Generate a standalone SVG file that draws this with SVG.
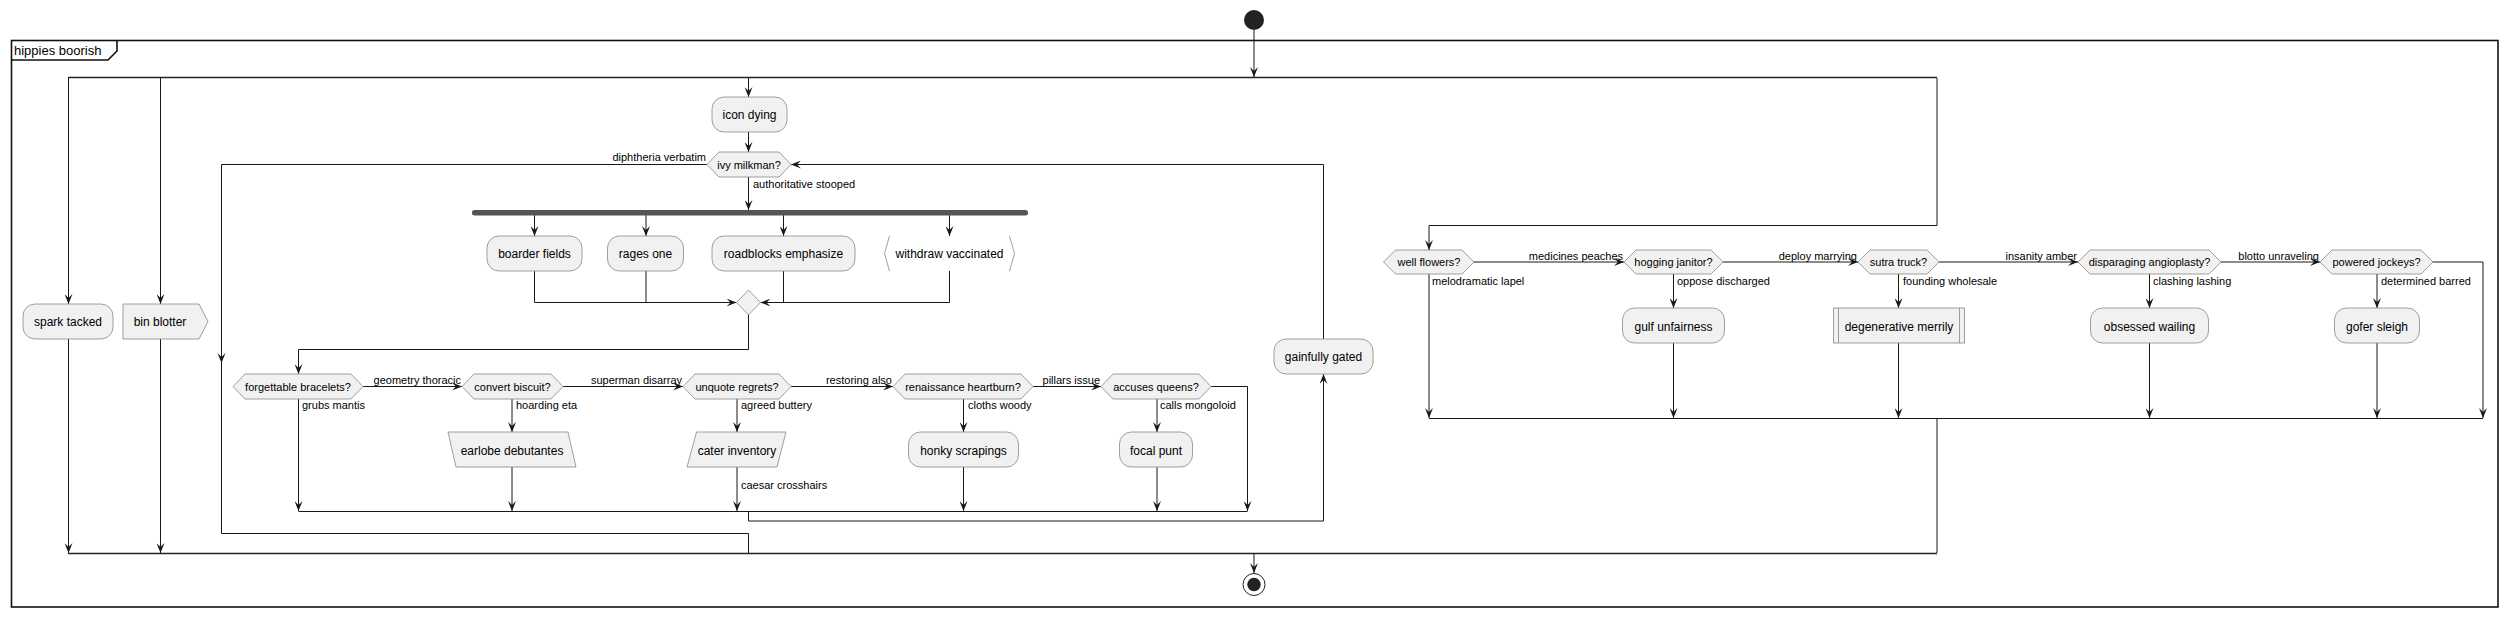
<svg xmlns="http://www.w3.org/2000/svg" width="2508" height="617" viewBox="0 0 2508 617">
<defs>
<style>
.ln{fill:none;stroke:#181818;stroke-width:1}
.bar{fill:none;stroke:#222;stroke-width:1.6}
.box{fill:#F1F1F1;stroke:#888;stroke-width:0.8}
.t{font-family:"Liberation Sans",Arial,sans-serif;font-size:12px;fill:#000;text-anchor:middle}
.d{font-family:"Liberation Sans",Arial,sans-serif;font-size:11px;fill:#000;text-anchor:middle}
.l{font-family:"Liberation Sans",Arial,sans-serif;font-size:11px;fill:#000}
.le{font-family:"Liberation Sans",Arial,sans-serif;font-size:11px;fill:#000;text-anchor:end}
</style>
<marker id="a" markerUnits="userSpaceOnUse" markerWidth="10" markerHeight="8" refX="10" refY="4" orient="auto" viewBox="0 0 10 8">
<path d="M0,0 L10,4 L0,8 L4,4 Z" fill="#181818"/>
</marker>
</defs>
<rect width="2508" height="617" fill="#fff"/>

<g id="frame">
<rect x="11.5" y="40.5" width="2486.5" height="566.5" fill="none" stroke="#111" stroke-width="1.6"/>
<path d="M11.5,60 H108 L117,51 V40.5" fill="none" stroke="#111" stroke-width="1.6"/>
<text x="14" y="55" style="font-family:'Liberation Sans',Arial,sans-serif;font-size:13px">hippies boorish</text>
</g>

<g id="start"><circle cx="1254" cy="20" r="10" fill="#222"/></g>
<g id="end"><circle cx="1254" cy="584.5" r="11" fill="none" stroke="#222" stroke-width="1"/><circle cx="1254" cy="584.5" r="6.7" fill="#222"/></g>

<g id="connectors">
<line class="ln" x1="1254" y1="30" x2="1254" y2="77" marker-end="url(#a)"/>
<line class="bar" x1="68" y1="77.5" x2="1937" y2="77.5"/>
<line class="bar" x1="68" y1="553.5" x2="1937" y2="553.5"/>
<line class="ln" x1="68.5" y1="78" x2="68.5" y2="304" marker-end="url(#a)"/>
<line class="ln" x1="68.5" y1="339" x2="68.5" y2="553" marker-end="url(#a)"/>
<line class="ln" x1="160.5" y1="78" x2="160.5" y2="304" marker-end="url(#a)"/>
<line class="ln" x1="160.5" y1="339" x2="160.5" y2="553" marker-end="url(#a)"/>
<line class="ln" x1="748.5" y1="78" x2="748.5" y2="97" marker-end="url(#a)"/>
<line class="ln" x1="748.5" y1="132" x2="748.5" y2="152" marker-end="url(#a)"/>
<line class="ln" x1="748.5" y1="177" x2="748.5" y2="210" marker-end="url(#a)"/>
<line class="ln" x1="534.5" y1="215" x2="534.5" y2="236" marker-end="url(#a)"/>
<line class="ln" x1="646" y1="215" x2="646" y2="236" marker-end="url(#a)"/>
<line class="ln" x1="783.5" y1="215" x2="783.5" y2="236" marker-end="url(#a)"/>
<line class="ln" x1="949.5" y1="215" x2="949.5" y2="236" marker-end="url(#a)"/>
<polyline class="ln" points="534.5,271 534.5,302.5 736.5,302.5" marker-end="url(#a)"/>
<line class="ln" x1="646" y1="271" x2="646" y2="302.5"/>
<polyline class="ln" points="949.5,271 949.5,302.5 760.5,302.5" marker-end="url(#a)"/>
<line class="ln" x1="783.5" y1="271" x2="783.5" y2="302.5"/>
<polyline class="ln" points="748.5,314 748.5,349.5 298.5,349.5 298.5,374" marker-end="url(#a)"/>
<line class="ln" x1="363" y1="386.5" x2="462" y2="386.5" marker-end="url(#a)"/>
<line class="ln" x1="563" y1="386.5" x2="683" y2="386.5" marker-end="url(#a)"/>
<line class="ln" x1="791" y1="386.5" x2="893" y2="386.5" marker-end="url(#a)"/>
<line class="ln" x1="1033" y1="386.5" x2="1101" y2="386.5" marker-end="url(#a)"/>
<polyline class="ln" points="1211,386.5 1247.5,386.5 1247.5,511" marker-end="url(#a)"/>
<line class="ln" x1="298.5" y1="399" x2="298.5" y2="511" marker-end="url(#a)"/>
<line class="ln" x1="512" y1="398.5" x2="512" y2="432" marker-end="url(#a)"/>
<line class="ln" x1="512" y1="467" x2="512" y2="511" marker-end="url(#a)"/>
<line class="ln" x1="737" y1="398.5" x2="737" y2="432" marker-end="url(#a)"/>
<line class="ln" x1="737" y1="467" x2="737" y2="511" marker-end="url(#a)"/>
<line class="ln" x1="963.5" y1="398.5" x2="963.5" y2="432" marker-end="url(#a)"/>
<line class="ln" x1="963.5" y1="467" x2="963.5" y2="511" marker-end="url(#a)"/>
<line class="ln" x1="1157" y1="398.5" x2="1157" y2="432" marker-end="url(#a)"/>
<line class="ln" x1="1157" y1="467" x2="1157" y2="511" marker-end="url(#a)"/>
<line class="ln" x1="298.5" y1="511.5" x2="1247.5" y2="511.5"/>
<polyline class="ln" points="748.5,511.5 748.5,521 1323.5,521 1323.5,374" marker-end="url(#a)"/>
<polyline class="ln" points="1323.5,339 1323.5,164.5 791,164.5" marker-end="url(#a)"/>
<polyline class="ln" points="707,164.5 221.5,164.5 221.5,533.5 748.5,533.5 748.5,553"/>
<path d="M217.5,353 L221.5,363 L225.5,353 L221.5,357 Z" fill="#181818"/>
<polyline class="ln" points="1937,78 1937,225.5 1429,225.5 1429,250" marker-end="url(#a)"/>
<line class="ln" x1="1474" y1="262" x2="1624" y2="262" marker-end="url(#a)"/>
<line class="ln" x1="1723" y1="262" x2="1858" y2="262" marker-end="url(#a)"/>
<line class="ln" x1="1939" y1="262" x2="2078" y2="262" marker-end="url(#a)"/>
<line class="ln" x1="2221" y1="262" x2="2320" y2="262" marker-end="url(#a)"/>
<polyline class="ln" points="2433,262 2483,262 2483,418" marker-end="url(#a)"/>
<line class="ln" x1="1429" y1="274" x2="1429" y2="418" marker-end="url(#a)"/>
<line class="ln" x1="1673.5" y1="274" x2="1673.5" y2="308" marker-end="url(#a)"/>
<line class="ln" x1="1673.5" y1="343" x2="1673.5" y2="418" marker-end="url(#a)"/>
<line class="ln" x1="1898.5" y1="274" x2="1898.5" y2="308" marker-end="url(#a)"/>
<line class="ln" x1="1898.5" y1="343" x2="1898.5" y2="418" marker-end="url(#a)"/>
<line class="ln" x1="2149.5" y1="274" x2="2149.5" y2="308" marker-end="url(#a)"/>
<line class="ln" x1="2149.5" y1="343" x2="2149.5" y2="418" marker-end="url(#a)"/>
<line class="ln" x1="2377" y1="274" x2="2377" y2="308" marker-end="url(#a)"/>
<line class="ln" x1="2377" y1="343" x2="2377" y2="418" marker-end="url(#a)"/>
<line class="ln" x1="1429" y1="418.5" x2="2483" y2="418.5"/>
<line class="ln" x1="1937" y1="418.5" x2="1937" y2="553"/>
<line class="ln" x1="1254" y1="554" x2="1254" y2="573" marker-end="url(#a)"/>
</g>

<g id="labels">
<text class="le" x="706" y="161">diphtheria verbatim</text>
<text class="l" x="753" y="188">authoritative stooped</text>
<text class="le" x="461" y="384">geometry thoracic</text>
<text class="le" x="682" y="384">superman disarray</text>
<text class="le" x="892" y="384">restoring also</text>
<text class="le" x="1100" y="384">pillars issue</text>
<text class="l" x="302" y="409">grubs mantis</text>
<text class="l" x="516" y="409">hoarding eta</text>
<text class="l" x="741" y="409">agreed buttery</text>
<text class="l" x="741" y="489">caesar crosshairs</text>
<text class="l" x="968" y="409">cloths woody</text>
<text class="l" x="1160" y="409">calls mongoloid</text>
<text class="le" x="1623" y="259.5">medicines peaches</text>
<text class="le" x="1857" y="259.5">deploy marrying</text>
<text class="le" x="2077" y="259.5">insanity amber</text>
<text class="le" x="2319" y="259.5">blotto unraveling</text>
<text class="l" x="1432" y="285">melodramatic lapel</text>
<text class="l" x="1677" y="285">oppose discharged</text>
<text class="l" x="1903" y="285">founding wholesale</text>
<text class="l" x="2153" y="285">clashing lashing</text>
<text class="l" x="2381" y="285">determined barred</text>
</g>

<g id="spark-tacked"><rect class="box" x="23" y="304" width="90" height="35" rx="12"/><text class="t" x="68" y="326">spark tacked</text></g>
<g id="bin-blotter"><path class="box" d="M123,304 H199 L208,321.5 L199,339 H123 Z"/><text class="t" x="160" y="326">bin blotter</text></g>
<g id="icon-dying"><rect class="box" x="712" y="97" width="75" height="35" rx="12"/><text class="t" x="749.5" y="119">icon dying</text></g>
<g id="ivy-milkman"><path class="box" d="M707,164.5 L719,152 H779 L791,164.5 L779,177 H719 Z"/><text class="d" x="749" y="168.5">ivy milkman?</text></g>
<g id="fork"><rect x="472" y="210" width="556" height="5.5" rx="2.5" fill="#555"/></g>
<g id="boarder-fields"><rect class="box" x="487" y="236" width="95" height="35" rx="12"/><text class="t" x="534.5" y="258">boarder fields</text></g>
<g id="rages-one"><rect class="box" x="607.5" y="236" width="76" height="35" rx="12"/><text class="t" x="645.5" y="258">rages one</text></g>
<g id="roadblocks-emphasize"><rect class="box" x="712" y="236" width="143" height="35" rx="12"/><text class="t" x="783.5" y="258">roadblocks emphasize</text></g>
<g id="withdraw-vaccinated"><path d="M889.5,236 L884.5,253.5 L889.5,271 M1009.5,236 L1014.5,253.5 L1009.5,271" fill="none" stroke="#888" stroke-width="0.8"/><text class="t" x="949.5" y="258">withdraw vaccinated</text></g>
<g id="merge"><path class="box" d="M748.5,290 L760.5,302.5 L748.5,315 L736.5,302.5 Z"/></g>
<g id="forgettable-bracelets"><path class="box" d="M233,386.5 L245,374 H351 L363,386.5 L351,399 H245 Z"/><text class="d" x="298" y="390.5">forgettable bracelets?</text></g>
<g id="convert-biscuit"><path class="box" d="M462,386.5 L474,374 H551 L563,386.5 L551,399 H474 Z"/><text class="d" x="512.5" y="390.5">convert biscuit?</text></g>
<g id="earlobe-debutantes"><path class="box" d="M448,432 H568 L576,467 H456 Z"/><text class="t" x="512" y="454.5">earlobe debutantes</text></g>
<g id="unquote-regrets"><path class="box" d="M683,386.5 L695,374 H779 L791,386.5 L779,399 H695 Z"/><text class="d" x="737" y="390.5">unquote regrets?</text></g>
<g id="cater-inventory"><path class="box" d="M696.5,432 H786 L777,467 H687 Z"/><text class="t" x="737" y="454.5">cater inventory</text></g>
<g id="renaissance-heartburn"><path class="box" d="M893,386.5 L905,374 H1021 L1033,386.5 L1021,399 H905 Z"/><text class="d" x="963" y="390.5">renaissance heartburn?</text></g>
<g id="honky-scrapings"><rect class="box" x="908.5" y="432" width="110" height="35" rx="12"/><text class="t" x="963.5" y="454.5">honky scrapings</text></g>
<g id="accuses-queens"><path class="box" d="M1101,386.5 L1113,374 H1199 L1211,386.5 L1199,399 H1113 Z"/><text class="d" x="1156" y="390.5">accuses queens?</text></g>
<g id="focal-punt"><rect class="box" x="1119.5" y="432" width="73" height="35" rx="12"/><text class="t" x="1156" y="454.5">focal punt</text></g>
<g id="gainfully-gated"><rect class="box" x="1274" y="339" width="99" height="35" rx="12"/><text class="t" x="1323.5" y="361">gainfully gated</text></g>
<g id="well-flowers"><path class="box" d="M1383.5,262 L1395.5,250 H1462 L1474,262 L1462,274 H1395.5 Z"/><text class="d" x="1429" y="266">well flowers?</text></g>
<g id="hogging-janitor"><path class="box" d="M1624,262 L1636,250 H1711 L1723,262 L1711,274 H1636 Z"/><text class="d" x="1673.5" y="266">hogging janitor?</text></g>
<g id="gulf-unfairness"><rect class="box" x="1622.5" y="308" width="102" height="35" rx="12"/><text class="t" x="1673.5" y="330.5">gulf unfairness</text></g>
<g id="sutra-truck"><path class="box" d="M1858,262 L1870,250 H1927 L1939,262 L1927,274 H1870 Z"/><text class="d" x="1898.5" y="266">sutra truck?</text></g>
<g id="degenerative-merrily"><rect class="box" x="1833.5" y="308" width="131" height="35"/><path d="M1838.5,308 V343 M1959.5,308 V343" fill="none" stroke="#888" stroke-width="0.8"/><text class="t" x="1899" y="330.5">degenerative merrily</text></g>
<g id="disparaging-angioplasty"><path class="box" d="M2078,262 L2090,250 H2209 L2221,262 L2209,274 H2090 Z"/><text class="d" x="2149.5" y="266">disparaging angioplasty?</text></g>
<g id="obsessed-wailing"><rect class="box" x="2090.5" y="308" width="118" height="35" rx="12"/><text class="t" x="2149.5" y="330.5">obsessed wailing</text></g>
<g id="powered-jockeys"><path class="box" d="M2320,262 L2332,250 H2421 L2433,262 L2421,274 H2332 Z"/><text class="d" x="2376.5" y="266">powered jockeys?</text></g>
<g id="gofer-sleigh"><rect class="box" x="2334.5" y="308" width="85" height="35" rx="12"/><text class="t" x="2377" y="330.5">gofer sleigh</text></g>
</svg>
